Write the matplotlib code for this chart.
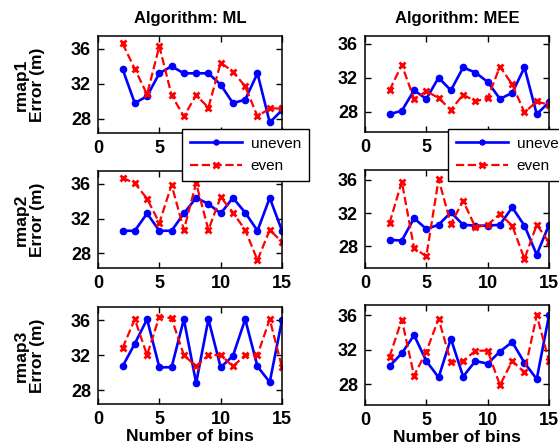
import numpy as np
import matplotlib
matplotlib.use("Agg")
import matplotlib.pyplot as plt

plt.rcParams['font.family'] = ['Liberation Sans', 'DejaVu Sans']

bins = [2, 3, 4, 5, 6, 7, 8, 9, 10, 11, 12, 13, 14, 15]

# ML algorithm, error in metres
ml_uneven_r1 = [33.7, 29.8, 30.6, 33.2, 34.0, 33.2, 33.2, 33.2, 31.9, 29.8, 30.2, 33.2, 27.6, 29.0]
ml_even_r1 = [36.6, 33.7, 30.8, 36.3, 30.7, 28.3, 30.7, 29.3, 34.4, 33.4, 31.7, 28.3, 29.2, 29.2]
ml_uneven_r2 = [30.6, 30.6, 32.6, 30.6, 30.6, 32.6, 34.4, 33.7, 32.6, 34.4, 32.7, 30.6, 34.4, 30.6]
ml_even_r2 = [36.7, 36.1, 34.3, 31.5, 35.9, 30.7, 36.1, 30.7, 34.5, 32.7, 30.7, 27.2, 30.7, 29.3]
ml_uneven_r3 = [30.7, 33.3, 36.1, 30.6, 30.6, 36.1, 28.8, 36.1, 30.6, 31.9, 36.1, 30.7, 28.9, 36.0]
ml_even_r3 = [32.8, 36.1, 32.0, 36.4, 36.2, 32.0, 30.7, 32.0, 32.0, 30.7, 32.0, 32.0, 36.1, 30.6]

# MEE algorithm, error in metres
mee_uneven_r1 = [27.7, 28.1, 30.5, 29.5, 32.0, 30.5, 33.2, 32.6, 31.5, 29.5, 30.2, 33.2, 27.7, 29.1]
mee_even_r1 = [30.5, 33.5, 29.5, 30.4, 29.6, 28.2, 30.0, 29.2, 29.6, 33.3, 31.2, 27.9, 29.2, 28.8]
mee_uneven_r2 = [28.8, 28.7, 31.4, 30.1, 30.6, 32.1, 30.6, 30.5, 30.5, 30.6, 32.7, 30.5, 27.0, 30.6]
mee_even_r2 = [30.8, 35.8, 27.8, 26.8, 36.1, 30.7, 33.5, 30.3, 30.6, 31.9, 30.5, 26.5, 30.6, 28.5]
mee_uneven_r3 = [30.1, 31.6, 33.7, 30.7, 28.8, 33.3, 28.9, 30.7, 30.4, 31.8, 32.9, 30.5, 28.6, 36.0]
mee_even_r3 = [31.2, 35.5, 29.0, 31.8, 35.6, 30.6, 30.7, 31.9, 31.9, 27.9, 30.7, 29.4, 36.0, 30.7]

maps = ["rmap1", "rmap2", "rmap3"]
algos = ["ML", "MEE"]
yticks = [28, 32, 36]
xticks = [0, 5, 10, 15]

panels = [
    [(ml_uneven_r1, ml_even_r1), (mee_uneven_r1, mee_even_r1)],
    [(ml_uneven_r2, ml_even_r2), (mee_uneven_r2, mee_even_r2)],
    [(ml_uneven_r3, ml_even_r3), (mee_uneven_r3, mee_even_r3)],
]
ylims = [
    [(26.4, 37.45), (25.6, 36.9)],
    [(26.3, 37.5), (25.4, 37.2)],
    [(26.4, 37.5), (25.6, 37.2)],
]

W, H = 559, 448
fig = plt.figure(figsize=(W / 100, H / 100), dpi=100)

# axes boxes in pixels: left, top, width, height
col_x = [98, 365]
row_top = [[36, 36], [171, 170], [307, 305]]
row_h = [[97, 96], [97, 98], [97, 100]]
ax_w = 184

axes = []
for r in range(3):
    row = []
    for c in range(2):
        left = col_x[c] / W
        bottom = 1 - (row_top[r][c] + row_h[r][c]) / H
        ax = fig.add_axes([left, bottom, ax_w / W, row_h[r][c] / H])
        uneven, even = panels[r][c]
        lu, = ax.plot(bins, uneven, '-', color='blue', lw=1.9, marker='o', ms=4.5,
                      label='uneven')
        le, = ax.plot(bins, even, '--', color='red', lw=1.6, marker='x', ms=5, mew=2,
                      label='even')
        ax.set_xlim(0, 15)
        ax.set_ylim(*ylims[r][c])
        ax.set_xticks(xticks)
        ax.set_yticks(yticks)
        ax.tick_params(direction='in', top=True, right=True, length=4, width=1,
                       labelsize=13, pad=5)
        for lab in ax.get_xticklabels() + ax.get_yticklabels():
            lab.set_fontweight('bold')
        for sp in ax.spines.values():
            sp.set_linewidth(1.1)
        if r == 0:
            ax.set_title("Algorithm: " + algos[c], fontsize=12, fontweight='bold', pad=9)
        if r == 2:
            ax.set_xlabel("Number of bins", fontsize=12.5, fontweight='bold', labelpad=1)
        if c == 0:
            ax.set_ylabel(maps[r] + "\nError (m)", fontsize=12.5, fontweight='bold',
                          labelpad=19, linespacing=1.1)
        row.append(ax)
    axes.append(row)

# legends sit over the gap between first and second rows
for lx in [182, 448]:
    fig.legend(handles=[lu, le], labels=['uneven', 'even'],
               loc='upper left', bbox_to_anchor=(lx / W, 1 - 129 / H),
               fontsize=11, numpoints=1, markerscale=0.8, handlelength=3.4,
               frameon=True, fancybox=False, edgecolor='black', framealpha=1,
               borderpad=0.5, labelspacing=0.55, handletextpad=0.6,
               borderaxespad=0)

fig.savefig("out.png", dpi=100)
